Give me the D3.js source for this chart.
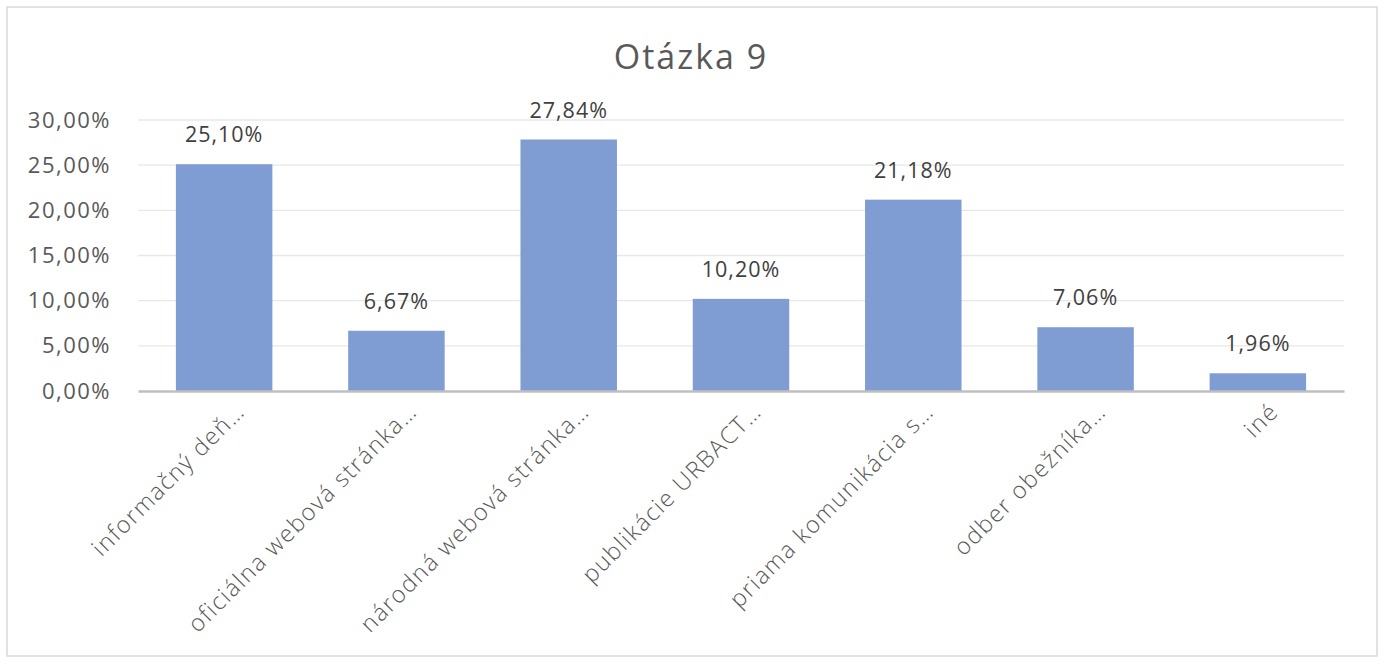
<!DOCTYPE html>
<html><head><meta charset="utf-8">
<script src="https://cdn.jsdelivr.net/npm/d3@7"></script>
<style>body{margin:0;background:#fff;} svg{display:block;font-family:"Open Sans",sans-serif;}</style>
</head><body>
<svg id="c" width="1386" height="665"></svg>
<script>
const title = "Otázka 9";
const categories = ["informačný deň…","oficiálna webová stránka…","národná webová stránka…","publikácie URBACT…","priama komunikácia s…","odber obežníka…","iné"];
const values = [25.10, 6.67, 27.84, 10.20, 21.18, 7.06, 1.96];
const yTicks = [0,5,10,15,20,25,30];

const svg = d3.select("#c");
svg.append("rect").attr("x",7).attr("y",7).attr("width",1370).attr("height",649)
  .attr("fill","#fff").attr("stroke","#d9d9d9").attr("stroke-width",1.5);

const m = {left:138, right:1344, top:120, bottom:391};
const x = d3.scaleBand().domain(categories).range([m.left,m.right]).paddingInner(0.44).paddingOuter(0.22);
const y = d3.scaleLinear().domain([0,30]).range([m.bottom,m.top]);
const fmt = v => v.toFixed(2).replace(".",",")+"%";

svg.append("text").attr("x",691).attr("y",69).attr("text-anchor","middle")
  .attr("font-size",34).attr("letter-spacing",2).attr("fill","#595959").text(title);

// gridlines
svg.append("g").selectAll("line").data(yTicks.filter(d=>d>0)).join("line")
  .attr("x1",m.left).attr("x2",m.right).attr("y1",d=>y(d)).attr("y2",d=>y(d))
  .attr("stroke","#e8e8e8").attr("stroke-width",1.3);

// y axis
const ya = svg.append("g").attr("transform",`translate(${m.left},0)`)
  .call(d3.axisLeft(y).tickValues(yTicks).tickSize(0).tickPadding(27).tickFormat(fmt));
ya.select(".domain").remove();
ya.selectAll("text").attr("font-size",22).attr("letter-spacing",1.5).attr("fill","#595959").attr("font-family","Open Sans");

// bars
svg.append("g").selectAll("rect").data(values).join("rect")
  .attr("x",(d,i)=>x(categories[i])).attr("width",x.bandwidth())
  .attr("y",d=>y(d)).attr("height",d=>y(0)-y(d)).attr("fill","#7f9cd3");

// value labels
svg.append("g").selectAll("text").data(values).join("text")
  .attr("x",(d,i)=>x(categories[i])+x.bandwidth()/2).attr("y",d=>y(d)-22)
  .attr("text-anchor","middle").attr("font-size",21.5).attr("letter-spacing",1).attr("fill","#404040").text(fmt);

// x axis
const xa = svg.append("g").attr("transform",`translate(0,${m.bottom})`)
  .call(d3.axisBottom(x).tickSize(0).tickPadding(0));
xa.select(".domain").attr("stroke","#bfbfbf").attr("stroke-width",2.5);
xa.selectAll("text").attr("font-size",23.5).attr("letter-spacing",1.5).attr("font-weight",300)
  .attr("fill","#595959").attr("font-family","Open Sans")
  .attr("text-anchor","end").attr("dy",0)
  .attr("transform","translate(22,22) rotate(-45)");
</script>
</body></html>
